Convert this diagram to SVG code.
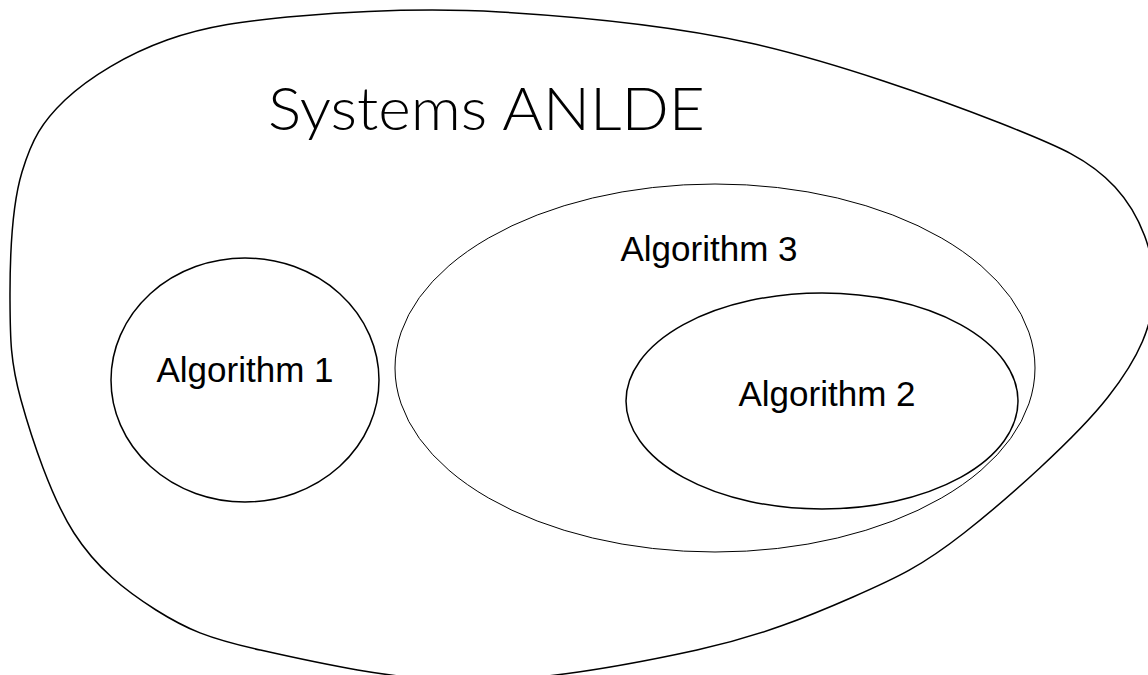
<svg xmlns="http://www.w3.org/2000/svg" width="1148" height="675" viewBox="0 0 1148 675">
<style>
.shape{fill:none;stroke:#000;stroke-width:1.5}
.thin{fill:none;stroke:#000;stroke-width:1}
.lbl{font-family:"Liberation Sans",Arial,sans-serif;font-size:35px;fill:#000;text-anchor:middle}
.title{font-family:Lato,"Liberation Sans",sans-serif;font-weight:300;font-size:60px;fill:#000}
</style>
<rect width="1148" height="675" fill="#fff"/>
<g id="systems">
<path class="shape" d="M500,12 C575,16.5 666.7,24.5 750,43 C833.3,61.5 939.2,99 1000,123 C1060.8,147 1089.3,159.2 1115,187 C1140.7,214.8 1155.2,255 1154,290 C1152.8,325 1139.7,356.5 1108,397 C1076.3,437.5 1006.5,499.7 964,533 C921.5,566.3 897.5,577.5 853,597 C808.5,616.5 760.8,636 697,650 C633.2,664 542.8,681 470,681 C397.2,681 312.3,661.8 260,650 C207.7,638.2 187,629.5 156,610 C125,590.5 96.5,568 74,533 C51.5,498 31.7,438.8 21,400 C10.3,361.2 10.2,338.8 10,300 C9.8,261.2 12,205 22,172 C32,139 42,122 65,100 C89.5,76.8 127.8,54 167,40 C206.2,26 244.5,20.7 300,16 C355.5,11.3 425,7.5 500,12 Z"/>
<text class="title" x="268" y="130" textLength="437" lengthAdjust="spacingAndGlyphs">Systems ANLDE</text>
</g>
<g id="algorithm1">
<ellipse class="shape" cx="245" cy="380" rx="134" ry="122"/>
<text class="lbl" x="245" y="382">Algorithm 1</text>
</g>
<g id="algorithm3">
<ellipse class="thin" cx="715" cy="368" rx="320" ry="184"/>
<text class="lbl" x="709" y="261">Algorithm 3</text>
</g>
<g id="algorithm2">
<ellipse class="shape" cx="822" cy="401" rx="196" ry="108"/>
<text class="lbl" x="827" y="406">Algorithm 2</text>
</g>
<g id="connectors"/>
</svg>
